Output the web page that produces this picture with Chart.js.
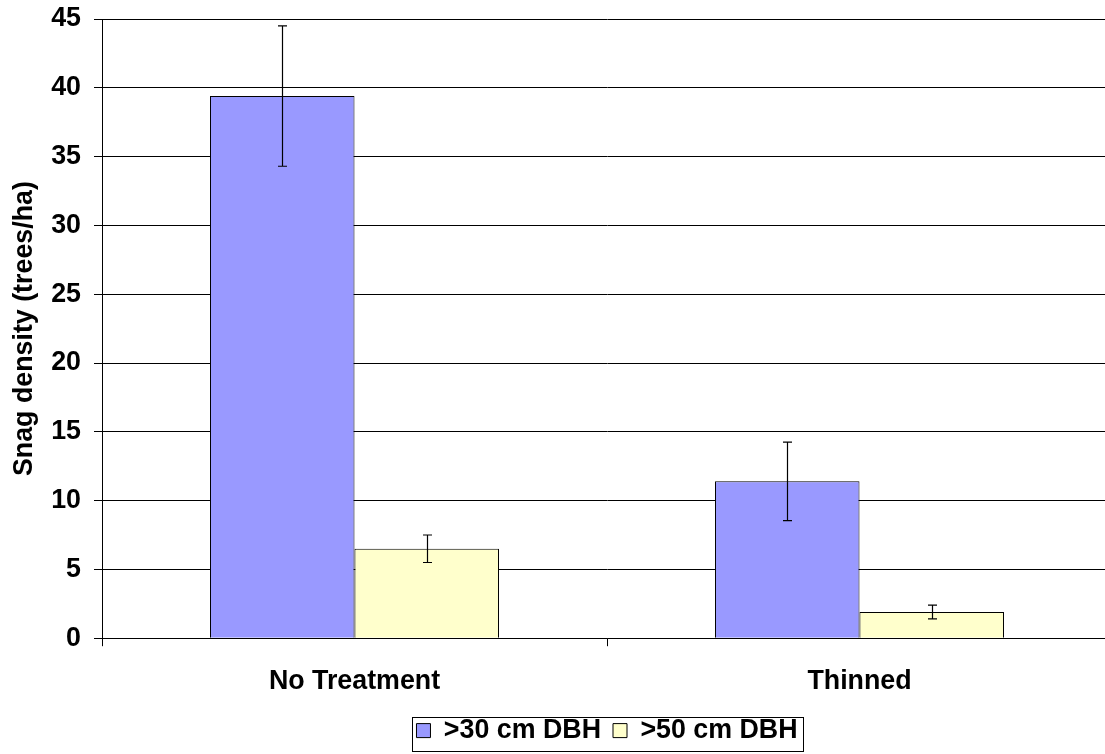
<!DOCTYPE html>
<html>
<head>
<meta charset="utf-8">
<script src="https://cdn.jsdelivr.net/npm/chart.js@4.4.1/dist/chart.umd.min.js"></script>
<style>
    html, body { margin: 0; padding: 0; background: #fff; overflow: hidden; }
</style>
</head>
<body>
<canvas id="grafica" width="1112" height="754"></canvas>
<script>
//--------Datos
const categorias = ["No Treatment", "Thinned"]
const dbh30 = [39.4, 11.4]
const dbh30Error = [5.1, 2.85]
const dbh50 = [6.5, 1.9]
const dbh50Error = [1.0, 0.5]
const yMin = 0
const yMax = 45
const yPaso = 5

const fuente = "'Liberation Sans', Arial, sans-serif"
const tamFuente = 26.8

//Barras de error, dibujadas con la escala y
const pluginErrores = {
    id: "errores",
    afterDatasetsDraw(chart) {
        const ctx = chart.ctx
        const escalaY = chart.scales.y
        chart.data.datasets.forEach((dataset, i) => {
            const meta = chart.getDatasetMeta(i)
            meta.data.forEach((barra, j) => {
                const valor = dataset.data[j]
                const error = dataset.errores[j]
                const yArriba = escalaY.getPixelForValue(valor + error)
                const yAbajo = escalaY.getPixelForValue(valor - error)
                const x = Math.round(barra.x) + 0.5
                ctx.save()
                ctx.strokeStyle = "#000"
                ctx.lineWidth = 1.2
                ctx.beginPath()
                ctx.moveTo(x, yArriba)
                ctx.lineTo(x, yAbajo)
                ctx.moveTo(x - 4.5, yArriba)
                ctx.lineTo(x + 4.5, yArriba)
                ctx.moveTo(x - 4.5, yAbajo)
                ctx.lineTo(x + 4.5, yAbajo)
                ctx.stroke()
                ctx.restore()
            })
        })
    }
}

//Marco de la leyenda
const pluginMarcoLeyenda = {
    id: "marcoLeyenda",
    afterDraw(chart) {
        const cajas = chart.legend.legendHitBoxes
        if (!cajas || cajas.length == 0) return
        const primera = cajas[0]
        const ultima = cajas[cajas.length - 1]
        const ctx = chart.ctx
        const izq = Math.round(primera.left - 4) + 0.5
        const der = Math.round(ultima.left + ultima.width + 5) + 0.5
        const arriba = Math.round(primera.top) + 0.5
        const abajo = Math.round(primera.top + primera.height + 7) + 0.5
        ctx.save()
        ctx.strokeStyle = "#000"
        ctx.lineWidth = 1
        ctx.strokeRect(izq, arriba, der - izq, abajo - arriba)
        ctx.restore()
    }
}

const canvaGrafica = document.getElementById("grafica")

const graficaChart = new Chart(canvaGrafica, {
    type: "bar",
    data: {
        labels: categorias,
        datasets: [{
            label: ">30 cm DBH",
            data: dbh30,
            errores: dbh30Error,
            backgroundColor: "#9999FF",
            borderColor: "#000",
            borderWidth: 1
        }, {
            label: ">50 cm DBH",
            data: dbh50,
            errores: dbh50Error,
            backgroundColor: "#FFFFCC",
            borderColor: "#000",
            borderWidth: 1
        }]
    },
    options: {
        responsive: false,
        animation: false,
        devicePixelRatio: 1,
        categoryPercentage: 0.5723,
        barPercentage: 1,
        layout: {
            padding: { top: 19, left: 0, right: 0, bottom: 0 }
        },
        plugins: {
            legend: {
                position: "bottom",
                fullSize: false,
                labels: {
                    color: "#000",
                    boxWidth: 14,
                    boxHeight: 14,
                    padding: 12,
                    font: { family: fuente, size: tamFuente, weight: "bold" }
                }
            },
            tooltip: { enabled: false }
        },
        scales: {
            x: {
                grid: {
                    drawOnChartArea: false,
                    drawTicks: true,
                    tickLength: 8,
                    color: "#000"
                },
                border: { color: "#000", width: 1 },
                ticks: {
                    color: "#000",
                    padding: 19,
                    font: { family: fuente, size: tamFuente, weight: "bold" }
                },
                afterFit: (escala) => { escala.height = 67 }
            },
            y: {
                min: yMin,
                max: yMax,
                grid: {
                    color: "#000",
                    tickLength: 8
                },
                border: { color: "#000", width: 1 },
                ticks: {
                    stepSize: yPaso,
                    color: "#000",
                    padding: 13,
                    font: { family: fuente, size: tamFuente, weight: "bold" }
                },
                title: {
                    display: true,
                    text: "Snag density (trees/ha)",
                    color: "#000",
                    padding: { top: 9, bottom: 0 },
                    font: { family: fuente, size: tamFuente, weight: "bold" }
                },
                afterFit: (escala) => {
                    escala.width = 102
                    escala.paddingTop = 0
                    escala.paddingBottom = 0
                }
            }
        }
    },
    plugins: [pluginErrores, pluginMarcoLeyenda]
})
</script>
</body>
</html>
